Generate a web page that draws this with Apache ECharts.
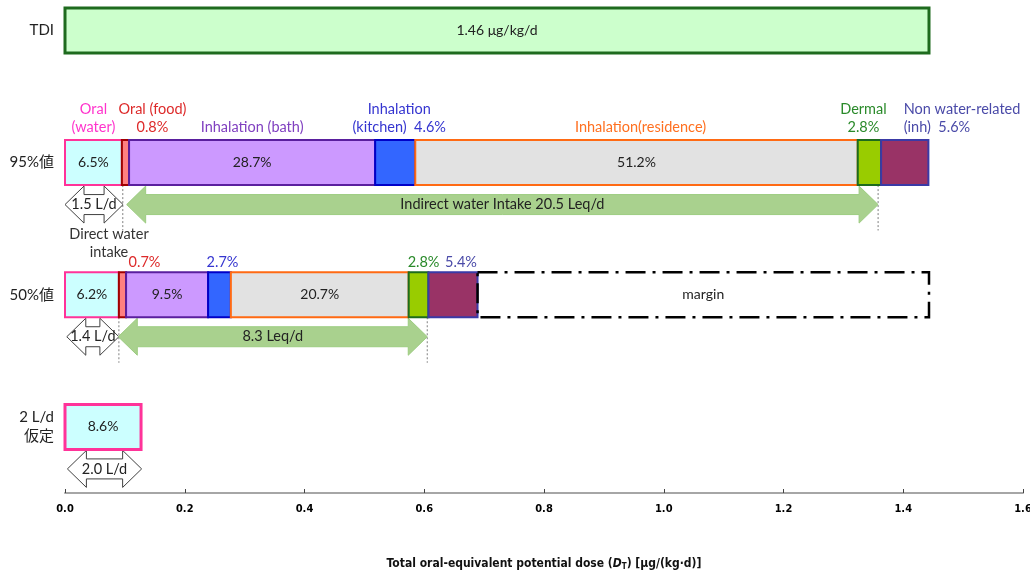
<!DOCTYPE html>
<html>
<head>
<meta charset="utf-8">
<script src="https://cdn.jsdelivr.net/npm/echarts@6/dist/echarts.min.js"></script>
<style>
  html, body { margin: 0; padding: 0; background: #fff; }
  #chart { width: 1030px; height: 578px; }
</style>
</head>
<body>
<div id="chart"></div>
<script>
// ---------------- data ----------------
const rowNames = ['TDI', '95%値', '50%値', '2 L/d\n仮定'];
const tdiDose = 1.443;
const tdiText = '1.46 μg/kg/d';
const routes = ['Oral (water)', 'Oral (food)', 'Inhalation (bath)', 'Inhalation (kitchen)',
                'Inhalation (residence)', 'Dermal', 'Non water-related (inh)'];
const dose95 = [0.095, 0.012, 0.411, 0.067, 0.739, 0.039, 0.079];
const share95 = ['6.5%', '0.8%', '28.7%', '4.6%', '51.2%', '2.8%', '5.6%'];
const dose50 = [0.090, 0.012, 0.137, 0.038, 0.297, 0.033, 0.082];
const share50 = ['6.2%', '0.7%', '9.5%', '2.7%', '20.7%', '2.8%', '5.4%'];
const margin50 = 0.754;
const marginText = 'margin';
const dose2L = 0.127;
const share2L = '8.6%';
const directText = ['1.5 L/d', '1.4 L/d', '2.0 L/d'];
const directFrom = [0.000, 0.003, 0.004];
const directTo = [0.097, 0.090, 0.128];
const indirectText = ['Indirect water Intake 20.5 Leq/d', '8.3 Leq/d'];
const indirectFrom = [0.103, 0.089];
const indirectTo = [1.358, 0.605];
const guideX95 = [0.0965, 1.358];
const guideX50 = [0.090, 0.605];
const xTickValues = [0, 0.2, 0.4, 0.6, 0.8, 1.0, 1.2, 1.4, 1.6];

// ---------------- styles / layout ----------------
const FONT = "Lato, 'Noto Sans CJK JP', sans-serif";
const AXFONT = "'DejaVu Sans Condensed', 'Liberation Sans', sans-serif";
const BAR_H = 45;
const TXT = '14.5px ' + FONT;
const routeStyle = [
  { fill: '#ccffff', stroke: '#ff3399' },
  { fill: '#ff8080', stroke: '#a00000' },
  { fill: '#cc99ff', stroke: '#5a1f9e' },
  { fill: '#3366ff', stroke: '#0000c8' },
  { fill: '#e2e2e2', stroke: '#ff6a13' },
  { fill: '#99cc00', stroke: '#1d6b1d' },
  { fill: '#993366', stroke: '#3a3aa6' }
];
const insideShown = [true, false, true, false, true, false, false];

// segments: [x0, x1, row]
const segData = [];
const segInfo = [];
segData.push([0, tdiDose, 0]);
segInfo.push({ fill: '#ccffcc', stroke: '#1e6b1e', lw: 3, text: tdiText });
function addStack(row, doses, shares) {
  let acc = 0;
  doses.forEach((d, i) => {
    segData.push([acc, acc + d, row]);
    segInfo.push({ fill: routeStyle[i].fill, stroke: routeStyle[i].stroke, lw: 2,
                   text: insideShown[i] ? shares[i] : '' });
    acc += d;
  });
  return acc;
}
addStack(1, dose95, share95);
const end50 = addStack(2, dose50, share50);
segData.push([end50, end50 + margin50, 2]);
segInfo.push({ fill: 'rgba(0,0,0,0)', stroke: '#000', lw: 2.5, dash: [20, 7, 3, 7], text: marginText });
segData.push([0, dose2L, 3]);
segInfo.push({ fill: '#ccffff', stroke: '#ff3399', lw: 3, text: share2L });

function segStart(idx, doses) {
  let s = 0; for (let i = 0; i < idx; i++) s += doses[i]; return s;
}
function segCenter(row, idx) {
  const doses = row === 1 ? dose95 : dose50;
  return segStart(idx, doses) + doses[idx] / 2;
}

// annotations above stacks: anchored to segment centre, px offsets
const annotations = [
  { row: 1, seg: 0, dx: 0, text: 'Oral\n(water)', color: '#ff33cc' },
  { row: 1, seg: 1, dx: 27, text: 'Oral (food)\n0.8%', color: '#dd2a2a' },
  { row: 1, seg: 2, dx: 0, text: 'Inhalation (bath)', color: '#8040c0' },
  { row: 1, seg: 3, dx: 4, text: 'Inhalation\n(kitchen)  4.6%', color: '#3535d0' },
  { row: 1, seg: 4, dx: 4, text: 'Inhalation(residence)', color: '#ff7020' },
  { row: 1, seg: 5, dx: -6, text: 'Dermal\n2.8%', color: '#2a8a2a' },
  { row: 1, seg: 6, dx: -1, text: 'Non water-related\n(inh)  5.6%', color: '#4a4aa8', align: 'left' },
  { row: 2, seg: 1, dx: 22, text: share50[1], color: '#dd2a2a' },
  { row: 2, seg: 3, dx: 3, text: share50[3], color: '#3535d0' },
  { row: 2, seg: 5, dx: 5, text: share50[5], color: '#2a8a2a' },
  { row: 2, seg: 6, dx: 8, text: share50[6], color: '#4a4aa8' }
];
const annoData = annotations.map(a => [segCenter(a.row, a.seg), a.row]);

// arrows: [x0, x1, row]
const arrowData = [];
const arrowInfo = [];
directText.forEach((t, i) => {
  arrowData.push([directFrom[i], directTo[i], i + 1]);
  arrowInfo.push({ text: t, fill: '#ffffff', stroke: '#404040' });
});
indirectText.forEach((t, i) => {
  arrowData.push([indirectFrom[i], indirectTo[i], i + 1]);
  arrowInfo.push({ text: t, fill: '#a9d18e', stroke: '#9ccc80' });
});

const guideData = [];
guideX95.forEach(x => guideData.push([x, 1]));
guideX50.forEach(x => guideData.push([x, 2]));

// ---------------- render helpers ----------------
function renderSeg(params, api) {
  const s = segInfo[params.dataIndex];
  const a = api.coord([api.value(0), api.value(2)]);
  const b = api.coord([api.value(1), api.value(2)]);
  const children = [{
    type: 'rect',
    shape: { x: a[0], y: a[1] - BAR_H / 2, width: b[0] - a[0], height: BAR_H },
    style: { fill: s.fill, stroke: s.stroke, lineWidth: s.lw, lineDash: s.dash || null }
  }];
  if (s.text) {
    children.push({
      type: 'text', x: (a[0] + b[0]) / 2, y: a[1],
      style: { text: s.text, fill: '#222', font: '14px ' + FONT, align: 'center', verticalAlign: 'middle' }
    });
  }
  return { type: 'group', children };
}

function renderArrow(params, api) {
  const s = arrowInfo[params.dataIndex];
  const a = api.coord([api.value(0), api.value(2)]);
  const b = api.coord([api.value(1), api.value(2)]);
  const cy = a[1] + 42;
  const L = 19, H = 18.5, S = 10;
  const x0 = a[0], x1 = b[0];
  const pts = [[x0, cy], [x0 + L, cy - H], [x0 + L, cy - S], [x1 - L, cy - S], [x1 - L, cy - H],
               [x1, cy], [x1 - L, cy + H], [x1 - L, cy + S], [x0 + L, cy + S], [x0 + L, cy + H]];
  return {
    type: 'group', children: [
      { type: 'polygon', shape: { points: pts }, style: { fill: s.fill, stroke: s.stroke, lineWidth: 1 } },
      { type: 'text', x: (x0 + x1) / 2, y: cy,
        style: { text: s.text, fill: '#222', font: TXT, align: 'center', verticalAlign: 'middle' } }
    ]
  };
}

function renderGuide(params, api) {
  const p = api.coord([api.value(0), api.value(1)]);
  return {
    type: 'line',
    shape: { x1: p[0], y1: p[1] + BAR_H / 2, x2: p[0], y2: p[1] + 68 },
    style: { stroke: '#808080', lineWidth: 1, lineDash: [2, 2] }
  };
}

function renderAnno(params, api) {
  const a = annotations[params.dataIndex];
  const p = api.coord([api.value(0), api.value(1)]);
  const bottom = a.row === 1 ? p[1] - 26 : p[1] - 23;
  return {
    type: 'text', x: p[0] + a.dx, y: bottom,
    style: { text: a.text, fill: a.color, font: TXT, align: a.align || 'center',
             verticalAlign: 'bottom', lineHeight: 18 }
  };
}

function renderRowLabel(params, api) {
  const p = api.coord([0, api.value(0)]);
  return {
    type: 'text', x: p[0] - 11, y: p[1],
    style: { text: rowNames[params.dataIndex], fill: '#222', font: '15px ' + FONT,
             align: 'right', verticalAlign: 'middle', lineHeight: 19 }
  };
}

function renderNote(params, api) {
  const p = api.coord([api.value(0), api.value(1)]);
  return {
    type: 'text', x: p[0] + 15, y: p[1] + 63,
    style: { text: 'Direct water\nintake', fill: '#333', font: TXT,
             align: 'center', verticalAlign: 'top', lineHeight: 18 }
  };
}

// ---------------- chart ----------------
const chart = echarts.init(document.getElementById('chart'), null, { renderer: 'canvas' });
chart.setOption({
  animation: false,
  backgroundColor: '#ffffff',
  grid: { left: 65, right: 7, top: 0, bottom: 85, containLabel: false, outerBoundsMode: 'none' },
  xAxis: {
    type: 'value', min: 0, max: 1.6, interval: 0.2,
    name: 'Total oral-equivalent potential dose ({i|D}{sub|T}) [μg/(kg·d)]',
    nameLocation: 'middle', nameGap: 64,
    nameTextStyle: {
      color: '#111', fontFamily: AXFONT, fontSize: 12, fontWeight: 'bold',
      rich: {
        i: { fontStyle: 'italic', fontFamily: AXFONT, fontSize: 12, fontWeight: 'bold', color: '#111' },
        sub: { fontFamily: AXFONT, fontSize: 8, color: '#111', padding: [6, 0, 0, 0] }
      }
    },
    axisLine: { onZero: false, lineStyle: { color: '#a6a6a6', width: 2 } },
    axisTick: { inside: true, length: 4, lineStyle: { color: '#444' } },
    splitLine: { show: false },
    axisLabel: {
      formatter: v => xTickValues.indexOf(+v.toFixed(1)) >= 0 ? v.toFixed(1) : '',
      color: '#000', fontFamily: AXFONT, fontWeight: 'bold', fontSize: 11, margin: 11
    }
  },
  yAxis: { type: 'value', inverse: true, min: -0.23, max: 3.5, show: false },
  series: [
    { type: 'custom', renderItem: renderGuide, data: guideData, encode: { x: 0, y: 1 }, z: 1, silent: true },
    { type: 'custom', renderItem: renderArrow, data: arrowData, encode: { x: [0, 1], y: 2 }, z: 2, silent: true },
    { type: 'custom', renderItem: renderSeg, data: segData, encode: { x: [0, 1], y: 2 }, z: 3, silent: true },
    { type: 'custom', renderItem: renderAnno, data: annoData, encode: { x: 0, y: 1 }, z: 4, silent: true },
    { type: 'custom', renderItem: renderRowLabel, data: rowNames.map((n, i) => [i]), encode: { y: 0 }, z: 4, silent: true },
    { type: 'custom', renderItem: renderNote, data: [[(directFrom[0] + directTo[0]) / 2, 1]], encode: { x: 0, y: 1 }, z: 4, silent: true }
  ]
});
</script>
</body>
</html>
